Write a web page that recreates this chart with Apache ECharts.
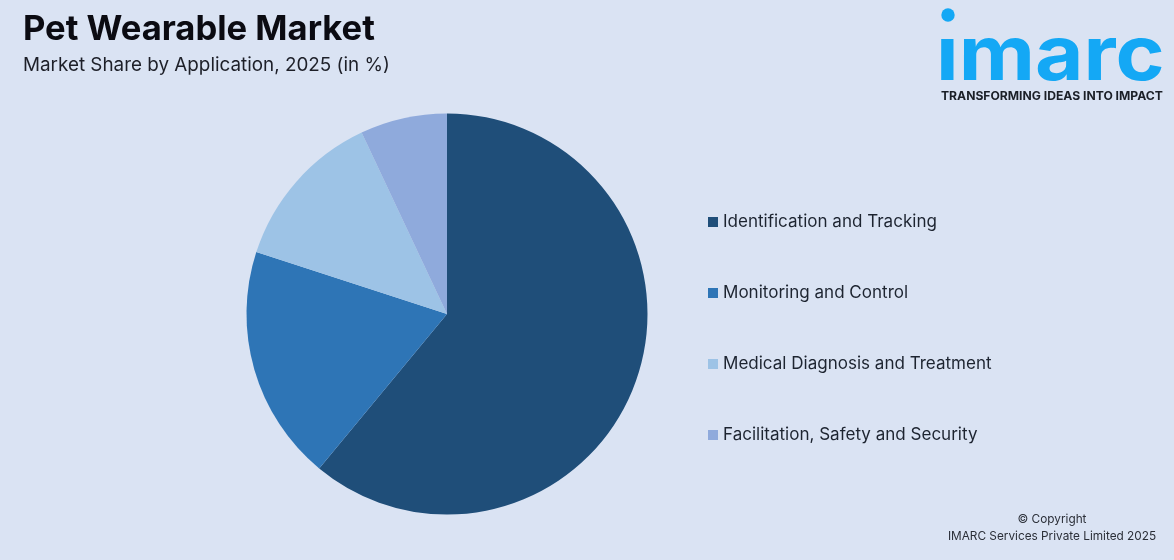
<!DOCTYPE html>
<html>
<head>
<meta charset="utf-8">
<style>
  html, body { margin: 0; padding: 0; background: #dae3f3; }
  #main { width: 1174px; height: 560px; }
</style>
<script src="https://cdn.jsdelivr.net/npm/echarts@6/dist/echarts.min.js"></script>
</head>
<body>
<div id="main"></div>
<script>
var categories = ['Identification and Tracking', 'Monitoring and Control', 'Medical Diagnosis and Treatment', 'Facilitation, Safety and Security'];
var shares = [61, 19, 13, 7];
var colors = ['#1f4e79', '#2e75b6', '#9dc3e6', '#8faadc'];

var myChart = echarts.init(document.getElementById('main'));
myChart.setOption({
  backgroundColor: '#dae3f3',
  animation: false,
  color: colors,
  title: {
    text: 'Pet Wearable Market',
    subtext: 'Market Share by Application, 2025 (in %)',
    left: 23,
    top: 12,
    padding: 0,
    itemGap: 9,
    textStyle: { fontFamily: 'Inter', fontSize: 34.6, fontWeight: 700, color: '#0b0b12' },
    subtextStyle: { fontFamily: 'Inter', fontSize: 18.85, fontWeight: 400, color: '#1d1f28' }
  },
  legend: {
    orient: 'vertical',
    left: 708,
    top: 209,
    padding: 0,
    itemWidth: 10,
    itemHeight: 10,
    itemGap: 45,
    icon: 'rect',
    data: categories,
    selectedMode: false,
    textStyle: { fontFamily: 'Inter', fontSize: 17.05, color: '#1d2430', height: 26, lineHeight: 26 }
  },
  graphic: [
    { type: 'circle', shape: { cx: 948, cy: 15, r: 6.7 }, style: { fill: '#14a8f5' } },
    { type: 'text', x: 936, y: 19, scaleX: 1.1, style: { text: 'ımarc', fill: '#14a8f5', font: '700 76px Inter' } },
    { type: 'text', style: { x: 941, y: 90, text: 'TRANSFORMING IDEAS INTO IMPACT', fill: '#1b1f27', font: '700 12.15px Inter' } },
    { type: 'text', style: { x: 1052, y: 513, text: '© Copyright', fill: '#2b2f38', align: 'center', font: '11.8px Inter' } },
    { type: 'text', style: { x: 1052, y: 530, text: 'IMARC Services Private Limited 2025', fill: '#2b2f38', align: 'center', font: '11.8px Inter' } }
  ],
  series: [{
    type: 'pie',
    center: [447, 314],
    radius: [0, 200.5],
    startAngle: 90,
    clockwise: true,
    label: { show: false },
    labelLine: { show: false },
    data: categories.map(function (name, i) {
      return { name: name, value: shares[i] };
    })
  }]
});
</script>
</body>
</html>
